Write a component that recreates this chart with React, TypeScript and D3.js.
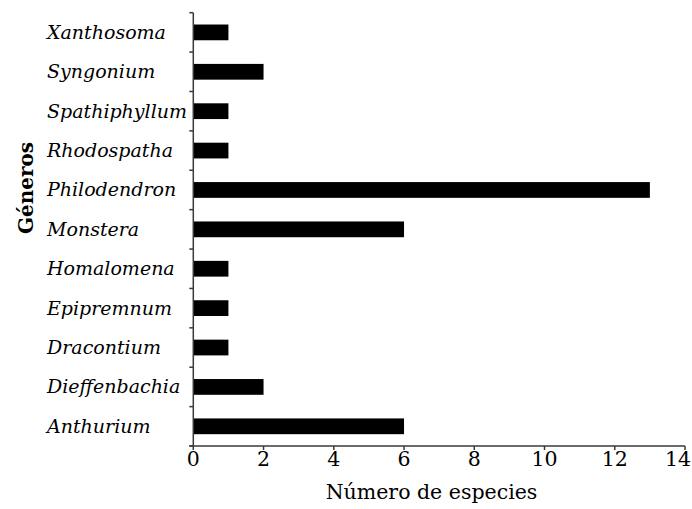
import React from "react";
import * as d3 from "d3";

const genera = ["Anthurium", "Dieffenbachia", "Dracontium", "Epipremnum", "Homalomena", "Monstera", "Philodendron", "Rhodospatha", "Spathiphyllum", "Syngonium", "Xanthosoma"];
const species = [6, 2, 1, 1, 1, 6, 13, 1, 1, 2, 1];
const xTicks = [0, 2, 4, 6, 8, 10, 12, 14];

const W = 692, H = 509;
const left = 193.3, right = 685, top = 12.7, bottom = 446;
const axisColor = "#3a3a3a";
const serif = "'DejaVu Serif', 'Liberation Serif', serif";

export default function App() {
  const x = d3.scaleLinear().domain([0, 14]).range([left, right]);
  const y = d3.scaleBand<string>().domain([...genera].reverse()).range([top, bottom]).paddingInner(0.6).paddingOuter(0.3);
  const yb = d3.scaleBand<string>().domain([...genera].reverse()).range([top, bottom]);
  return (
    <svg width={W} height={H} style={{ display: "block", position: "absolute", left: 0, top: 0 }}>
      <rect width={W} height={H} fill="#fff" />
      {genera.map((g, i) => (
        <rect key={g} x={x(0)} y={y(g)!} width={x(species[i]) - x(0)} height={y.bandwidth()} fill="#000" />
      ))}
      {genera.map((g) => (
        <text key={g + "l"} x={47} y={yb(g)! + yb.bandwidth() / 2 + 6.5} fontFamily={serif} fontStyle="italic" fontSize={19} fill="#000">{g}</text>
      ))}
      {/* y axis */}
      <line x1={left} x2={left} y1={top} y2={bottom} stroke={axisColor} strokeWidth={1.5} />
      {[...genera.map((g) => yb(g)!), bottom].map((v, i) => (
        <line key={"yt" + i} x1={left - 4} x2={left} y1={v} y2={v} stroke={axisColor} strokeWidth={1.5} />
      ))}
      {/* x axis */}
      <line x1={left - 4} x2={right} y1={bottom} y2={bottom} stroke={axisColor} strokeWidth={1.5} />
      {xTicks.map((t) => (
        <g key={"xt" + t}>
          <line x1={x(t)} x2={x(t)} y1={bottom} y2={bottom + 4} stroke={axisColor} strokeWidth={1.5} />
          <text x={Math.min(x(t), 678)} y={466} textAnchor="middle" fontFamily={serif} fontSize={20.5} fill="#000">{t}</text>
        </g>
      ))}
      <text x={(325 + 538) / 2} y={499} textAnchor="middle" fontFamily={serif} fontSize={20.5} fill="#000">Número de especies</text>
      <text transform={`translate(33,188) rotate(-90)`} textAnchor="middle" fontFamily={serif} fontWeight="bold" fontSize={20} fill="#000">Géneros</text>
    </svg>
  );
}
